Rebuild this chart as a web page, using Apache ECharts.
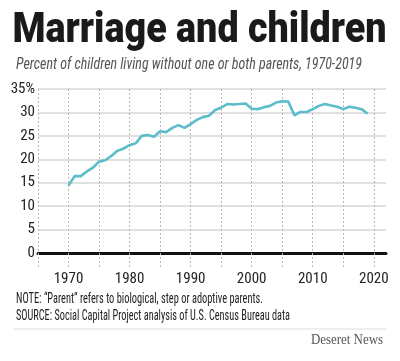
<!DOCTYPE html>
<html>
<head>
<meta charset="utf-8">
<script src="https://cdn.jsdelivr.net/npm/echarts@6/dist/echarts.min.js"></script>
<style>html,body{margin:0;padding:0;background:#fff;}#c{width:400px;height:361px;}</style>
</head>
<body>
<div id="c"></div>
<script>
const titleText = 'Marriage and children';
const subtitleText = 'Percent of children living without one or both parents, 1970-2019';
const noteText = 'NOTE: \u201cParent\u201d refers to biological, step or adoptive parents.';
const sourceText = 'SOURCE: Social Capital Project analysis of U.S. Census Bureau data';
const creditText = 'Deseret News';

const axisYears = [];
for (let y = 1965; y <= 2022; y++) axisYears.push(String(y));

const years = [1970,1971,1972,1973,1974,1975,1976,1977,1978,1979,
  1980,1981,1982,1983,1984,1985,1986,1987,1988,1989,
  1990,1991,1992,1993,1994,1995,1996,1997,1998,1999,
  2000,2001,2002,2003,2004,2005,2006,2007,2008,2009,
  2010,2011,2012,2013,2014,2015,2016,2017,2018,2019];
const percents = [14.4,16.4,16.4,17.4,18.2,19.5,19.8,20.7,21.8,22.3,
  23.0,23.4,25.0,25.2,24.8,26.0,25.8,26.7,27.3,26.7,
  27.5,28.4,29.0,29.3,30.5,31.0,31.8,31.7,31.8,31.9,
  30.8,30.7,31.1,31.4,32.1,32.4,32.3,29.4,30.1,30.1,
  30.7,31.4,31.8,31.5,31.2,30.7,31.2,31.0,30.7,29.7];

function fit(text, font, w) {
  const ctx = document.createElement('canvas').getContext('2d');
  ctx.font = font;
  return w / ctx.measureText(text).width;
}
function txt(text, font, fill, x, y, w) {
  return { type: 'text', x: x, y: y, scaleX: fit(text, font, w),
    style: { text: text, font: font, fill: fill, align: 'left', verticalAlign: 'middle' } };
}

const narrow = '"Roboto Condensed", "Liberation Sans Narrow", "Arial Narrow", "DejaVu Sans Condensed", sans-serif';
const fTitle = '900 42px Roboto';
const fSub = 'italic 16px ' + narrow;
const fNote = '14px ' + narrow;
const fCredit = '14px "Liberation Serif", "DejaVu Serif", serif';

const chart = echarts.init(document.getElementById('c'), null, { renderer: 'canvas' });
chart.setOption({
  animation: false,
  backgroundColor: '#fff',
  grid: { left: 38, right: 14, top: 89, bottom: 108 },
  xAxis: {
    type: 'category',
    data: axisYears,
    boundaryGap: false,
    axisLine: { show: true, onZero: true, lineStyle: { color: '#111', width: 3 } },
    axisTick: { show: true, length: 15, interval: (i, v) => (+v) % 5 === 0,
      lineStyle: { color: '#b8b8b8', type: [2, 2], width: 1 } },
    axisLabel: { interval: (i, v) => (+v) % 10 === 0 && +v >= 1970, margin: 19,
      color: '#222', fontSize: 15, fontFamily: narrow },
    splitLine: { show: true, interval: (i, v) => (+v) % 5 === 0,
      lineStyle: { color: '#b8b8b8', type: [2, 2], width: 1 } }
  },
  yAxis: {
    type: 'value', min: 0, max: 35, interval: 5,
    axisLine: { show: false }, axisTick: { show: false },
    axisLabel: { margin: 3, color: '#222', fontSize: 15, fontFamily: narrow,
      formatter: v => v === 35 ? '35%' : String(v) },
    splitLine: { show: true, lineStyle: { color: '#d6d6d6', width: 1.5 } }
  },
  series: [{
    type: 'line',
    data: years.map((y, i) => [String(y), percents[i]]),
    showSymbol: false,
    lineStyle: { color: '#5bbdca', width: 2.6 },
    itemStyle: { color: '#5bbdca' },
    z: 5
  }],
  graphic: [
    txt(titleText, fTitle, '#1a1a1a', 12.5, 31, 374),
    txt(subtitleText, fSub, '#555', 16, 65, 346),
    txt(noteText, fNote, '#222', 16, 299, 247),
    txt(sourceText, fNote, '#222', 16, 316, 274),
    { type: 'line', shape: { x1: 13, y1: 329, x2: 387, y2: 329 }, style: { stroke: '#ddd', lineWidth: 1 } },
    txt(creditText, fCredit, '#555', 311, 340, 72)
  ]
});
</script>
</body>
</html>
